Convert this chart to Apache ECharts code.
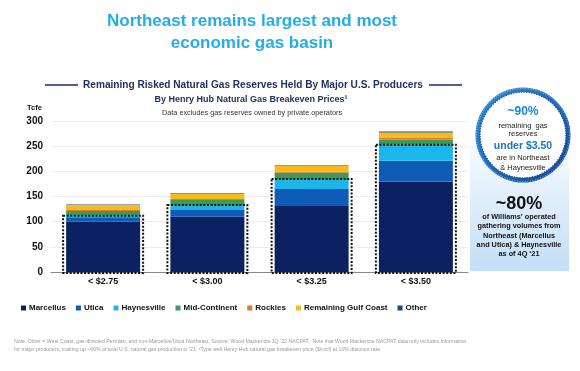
<!DOCTYPE html>
<html>
<head>
<meta charset="utf-8">
<script src="https://cdn.jsdelivr.net/npm/echarts@6/dist/echarts.min.js"></script>
<style>
html,body{margin:0;padding:0;background:#fff;}
#chart{width:580px;height:371px;}
</style>
</head>
<body>
<div id="chart"></div>
<script>
const categories = ['< $2.75', '< $3.00', '< $3.25', '< $3.50'];
const marcellus   = [100, 110, 131, 180];
const utica       = [9, 13, 34, 41];
const haynesville = [3, 10, 20, 32];
const midContinent= [9, 10, 12, 10];
const rockies     = [2, 2, 2, 3];
const gulfCoast   = [10, 11, 12, 11];
const other       = [1, 1, 1, 2];
const yTicks = [0, 50, 100, 150, 200, 250, 300];

const seriesNames = ['Marcellus', 'Utica', 'Haynesville', 'Mid-Continent', 'Rockies', 'Remaining Gulf Coast', 'Other'];
const seriesData = [marcellus, utica, haynesville, midContinent, rockies, gulfCoast, other];
const colors = ['#0b2161', '#0e5cb6', '#1cb5ec', '#3b9a5c', '#e27b2c', '#f7bb1a', '#26467f'];
const northeastHaynesville = categories.map((c, i) => marcellus[i] + utica[i] + haynesville[i]);

const FONT = '"Liberation Sans", Arial, sans-serif';
const BAR_W = 74;

const chart = echarts.init(document.getElementById('chart'), null, {renderer: 'canvas'});

const series = seriesNames.map((name, k) => ({
  name: name,
  type: 'bar',
  stack: 'total',
  barWidth: BAR_W,
  itemStyle: {color: colors[k]},
  data: seriesData[k]
}));

series.push({
  name: 'box',
  type: 'custom',
  z: 10,
  silent: true,
  data: categories.map((c, i) => [i, northeastHaynesville[i]]),
  renderItem: function (params, api) {
    const top = api.coord([api.value(0), api.value(1)]);
    const base = api.coord([api.value(0), 0]);
    const w = BAR_W + 6;
    return {
      type: 'rect',
      shape: {x: top[0] - w / 2, y: top[1], width: w, height: base[1] - top[1] + 1},
      style: {fill: 'none', stroke: '#111', lineWidth: 2, lineDash: [2, 1.6]}
    };
  }
});

const footnote1 = "Note: Other = West Coast, gas-directed Permian, and non-Marcellus/Utica Northeast. Source: Wood Mackenzie 1Q \u201922 NACPAT;  Note that Wood Mackenzie NACPAT data only includes information";
const footnote2 = "for major producers, making up ~60% of total U.S. natural gas production in \u201921. \u00B9Type well Henry Hub natural gas breakeven price ($/mcf) at 10% discount rate.";

const option = {
  backgroundColor: '#fff',
  animation: false,
  textStyle: {fontFamily: FONT},
  grid: {left: 51, right: 112, top: 121, bottom: 99, containLabel: false},
  legend: {
    data: seriesNames,
    left: 16,
    top: 299,
    icon: 'rect',
    itemWidth: 5,
    itemHeight: 5,
    itemGap: 10,
    textStyle: {fontFamily: FONT, fontSize: 8, fontWeight: 'bold', color: '#111', padding: [0, 0, 0, -2]}
  },
  xAxis: {
    type: 'category',
    data: categories,
    axisLine: {lineStyle: {color: '#888', width: 1}},
    axisTick: {show: false},
    axisLabel: {fontFamily: FONT, fontSize: 9, fontWeight: 'bold', color: '#111', margin: 5}
  },
  yAxis: {
    type: 'value',
    min: yTicks[0],
    max: yTicks[yTicks.length - 1],
    interval: yTicks[1] - yTicks[0],
    axisLine: {show: false},
    axisTick: {show: false},
    splitLine: {lineStyle: {color: '#ececec', width: 1}},
    axisLabel: {fontFamily: FONT, fontSize: 10, fontWeight: 'bold', color: '#111', margin: 8}
  },
  series: series,
  graphic: [
    {type: 'text', x: 252, y: 10, style: {text: 'Northeast remains largest and most\neconomic gas basin', font: 'bold 17px ' + FONT, fill: '#22aee6', textAlign: 'center', lineHeight: 22}},
    {type: 'line', shape: {x1: 45, y1: 85, x2: 78, y2: 85}, style: {stroke: '#1d2d5e', lineWidth: 1.5}},
    {type: 'line', shape: {x1: 429, y1: 85, x2: 462, y2: 85}, style: {stroke: '#1d2d5e', lineWidth: 1.5}},
    {type: 'text', x: 253, y: 85, style: {text: 'Remaining Risked Natural Gas Reserves Held By Major U.S. Producers', font: 'bold 10.1px ' + FONT, fill: '#1d2d5e', textAlign: 'center', textVerticalAlign: 'middle'}},
    {type: 'text', x: 251, y: 100, style: {text: 'By Henry Hub Natural Gas Breakeven Prices\u00B9', font: 'bold 9px ' + FONT, fill: '#1d2d5e', textAlign: 'center', textVerticalAlign: 'middle'}},
    {type: 'text', x: 252, y: 113, style: {text: 'Data excludes gas reserves owned by private operators', font: '7.3px ' + FONT, fill: '#333', textAlign: 'center', textVerticalAlign: 'middle'}},
    {type: 'text', x: 27, y: 108, style: {text: 'Tcfe', font: 'bold 7.5px ' + FONT, fill: '#111', textVerticalAlign: 'middle'}},
    {type: 'rect', shape: {x: 470, y: 125, width: 99, height: 146}, style: {fill: new echarts.graphic.LinearGradient(0, 0, 0, 1, [{offset: 0, color: '#ffffff'}, {offset: 1, color: '#c2def7'}])}},
    {type: 'circle', shape: {cx: 523, cy: 135, r: 47.5}, style: {fill: new echarts.graphic.LinearGradient(0, 0, 1, 1, [{offset: 0, color: '#2f8fdc'}, {offset: 1, color: '#14468f'}])}},
    {type: 'circle', shape: {cx: 523, cy: 135, r: 46.5}, style: {fill: 'none', stroke: '#ffffff', lineWidth: 0.8, lineDash: [1, 1.6], opacity: 0.7}},
    {type: 'circle', shape: {cx: 523, cy: 135, r: 43}, style: {fill: '#ffffff'}},
    {type: 'circle', shape: {cx: 523, cy: 135, r: 43}, style: {fill: 'none', stroke: '#1b4f9c', lineWidth: 1.4, lineDash: [1.2, 1.4]}},
    {type: 'text', x: 523, y: 112, style: {text: '~90%', font: 'bold 12px ' + FONT, fill: '#1c88d3', textAlign: 'center', textVerticalAlign: 'middle'}},
    {type: 'text', x: 523, y: 125.5, style: {text: 'remaining  gas', font: '7.5px ' + FONT, fill: '#222', textAlign: 'center', textVerticalAlign: 'middle'}},
    {type: 'text', x: 523, y: 134, style: {text: 'reserves', font: '7.5px ' + FONT, fill: '#222', textAlign: 'center', textVerticalAlign: 'middle'}},
    {type: 'text', x: 523, y: 146, style: {text: 'under $3.50', font: 'bold 10.5px ' + FONT, fill: '#1a76c0', textAlign: 'center', textVerticalAlign: 'middle'}},
    {type: 'text', x: 523, y: 157.5, style: {text: 'are in Northeast', font: '7.5px ' + FONT, fill: '#222', textAlign: 'center', textVerticalAlign: 'middle'}},
    {type: 'text', x: 523, y: 167.5, style: {text: '& Haynesville', font: '7.5px ' + FONT, fill: '#222', textAlign: 'center', textVerticalAlign: 'middle'}},
    {type: 'text', x: 519, y: 204, style: {text: '~80%', font: 'bold 18px ' + FONT, fill: '#111', textAlign: 'center', textVerticalAlign: 'middle'}},
    {type: 'text', x: 519, y: 235.5, style: {text: "of Williams\u2019 operated\ngathering volumes from\nNortheast (Marcellus\nand Utica) & Haynesville\nas of 4Q \u201821", font: 'bold 7.3px ' + FONT, fill: '#111', textAlign: 'center', textVerticalAlign: 'middle', lineHeight: 9.2}},
    {type: 'text', x: 14, y: 346, style: {text: footnote1 + '\n' + footnote2, font: '5.2px ' + FONT, fill: '#9a9a9a', textVerticalAlign: 'middle', lineHeight: 8}}
  ]
};
chart.setOption(option);
</script>
</body>
</html>
